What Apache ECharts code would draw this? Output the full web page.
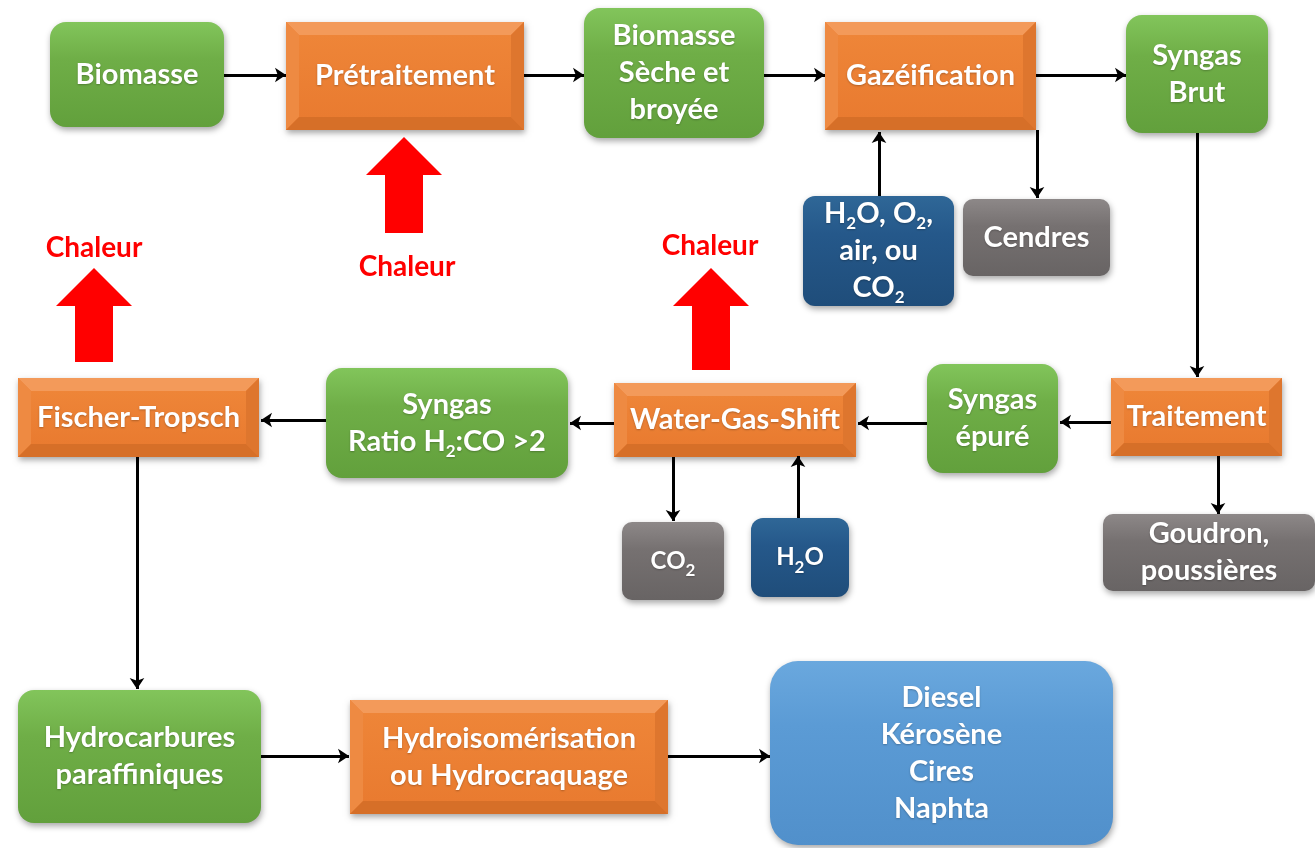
<!DOCTYPE html>
<html>
<head>
<meta charset="utf-8">
<title>Biomasse - Fischer-Tropsch</title>
<script src="https://cdn.jsdelivr.net/npm/echarts@6/dist/echarts.min.js"></script>
<style>
  html, body { margin: 0; padding: 0; background: #fff; }
  #chart { width: 1315px; height: 848px; }
</style>
</head>
<body>
<div id="chart"></div>
<script>
// diagram units = the 1315 x 848 canvas, mapped through hidden value axes
const nodeLabels = [
  'Biomasse', 'Prétraitement', 'Biomasse\nSèche et\nbroyée', 'Gazéification', 'Syngas\nBrut',
  'H{s|2}O, O{s|2},\nair, ou\nCO{s|2}', 'Cendres', 'Traitement', 'Syngas\népuré', 'Water-Gas-Shift',
  'Syngas\nRatio H{s|2}:CO >2', 'Fischer-Tropsch', 'CO{s|2}', 'H{s|2}O', 'Goudron,\npoussières',
  'Hydrocarbures\nparaffiniques', 'Hydroisomérisation\nou Hydrocraquage', 'Diesel\nKérosène\nCires\nNaphta'
]
const nodeKinds = [
  'product', 'process', 'product', 'process', 'product',
  'input', 'waste', 'process', 'product', 'process',
  'product', 'process', 'waste', 'input', 'waste',
  'product', 'process', 'fuel'
]
// box extents [x0, y0, x1, y1]
const nodeBoxes = [
  [50, 22, 224, 127], [286, 22, 524, 130], [584, 8, 764, 138], [825, 22, 1036, 130], [1126, 15, 1268, 133],
  [803, 196, 954, 306], [963, 199, 1110, 276], [1111, 378, 1282, 456], [927, 364, 1058, 473], [614, 383, 856, 457],
  [326, 368, 568, 478], [18, 378, 259, 457], [622, 522, 724, 600], [751, 518, 849, 597], [1103, 514, 1315, 591],
  [18, 690, 261, 823], [350, 700, 668, 814], [770, 661, 1113, 845]
]
// flow arrows [xFrom, yFrom, xTo, yTo]
const flows = [
  [224, 75, 286, 75], [524, 75, 584, 75], [764, 75, 825, 75], [1036, 75, 1126, 75],
  [879, 196, 879, 132], [1037, 130, 1037, 198], [1197, 133, 1197, 377],
  [1111, 422, 1060, 422], [927, 423, 858, 423], [614, 423, 570, 423], [326, 420, 261, 420],
  [673, 457, 673, 521], [798, 518, 798, 456], [1218, 456, 1218, 514],
  [137, 457, 137, 689], [261, 756, 349, 756], [668, 756, 770, 756]
]
// heat arrows [xCenter, yTip, yBase]
const heatArrows = [[404, 137, 233], [94, 268, 362], [711, 268, 370]]
const heatLabelPos = [[407, 267], [94, 248], [710, 246]]
const heatLabel = 'Chaleur'

const chart = echarts.init(document.getElementById('chart'))

const FONT = 'Lato'
const kindStyle = {
  process: { radius: 0 },
  product: { radius: 16, top: '#82c55b', mid: '#6fae47', bottom: '#62a03c' },
  input: { radius: 12, top: '#2f6797', mid: '#25588a', bottom: '#1f4d7a' },
  waste: { radius: 10, top: '#8d8888', mid: '#767171', bottom: '#686464' },
  fuel: { radius: 28, top: '#6aa8de', mid: '#5b9bd5', bottom: '#5190cb' }
}

function renderNode(params, api) {
  const i = params.dataIndex
  const p0 = api.coord([api.value(0), api.value(1)])
  const p1 = api.coord([api.value(2), api.value(3)])
  const x0 = p0[0], y0 = p0[1], x1 = p1[0], y1 = p1[1]
  const w = x1 - x0, h = y1 - y0
  const kind = nodeKinds[i]
  const shadow = { shadowBlur: 6, shadowOffsetX: 1, shadowOffsetY: 3, shadowColor: 'rgba(0,0,0,0.35)' }
  const children = []
  if (kind === 'process') {
    const b = 13
    children.push({ type: 'rect', shape: { x: x0, y: y0, width: w, height: h }, style: Object.assign({ fill: '#ec8035' }, shadow) })
    children.push({ type: 'polygon', shape: { points: [[x0, y0], [x1, y0], [x1 - b, y0 + b], [x0 + b, y0 + b]] }, style: { fill: '#f39a5a' } })
    children.push({ type: 'polygon', shape: { points: [[x0, y0], [x0 + b, y0 + b], [x0 + b, y1 - b], [x0, y1]] }, style: { fill: '#ee8a42' } })
    children.push({ type: 'polygon', shape: { points: [[x1, y0], [x1, y1], [x1 - b, y1 - b], [x1 - b, y0 + b]] }, style: { fill: '#de762e' } })
    children.push({ type: 'polygon', shape: { points: [[x0, y1], [x0 + b, y1 - b], [x1 - b, y1 - b], [x1, y1]] }, style: { fill: '#d66f28' } })
    children.push({
      type: 'rect',
      shape: { x: x0 + b, y: y0 + b, width: w - 2 * b, height: h - 2 * b },
      style: {
        fill: new echarts.graphic.LinearGradient(0, 0, 0, 1, [
          { offset: 0, color: '#ee8538' }, { offset: 1, color: '#e97b30' }
        ])
      }
    })
  } else {
    const s = kindStyle[kind]
    children.push({
      type: 'rect',
      shape: { x: x0, y: y0, width: w, height: h, r: s.radius },
      style: Object.assign({
        fill: new echarts.graphic.LinearGradient(0, 0, 0, 1, [
          { offset: 0, color: s.top }, { offset: 0.35, color: s.mid }, { offset: 1, color: s.bottom }
        ])
      }, shadow)
    })
  }
  const fs = w < 110 ? 24 : 29
  children.push({
    type: 'text',
    x: (x0 + x1) / 2,
    y: (y0 + y1) / 2,
    style: {
      text: nodeLabels[i],
      fill: '#fff',
      fontSize: fs,
      fontWeight: 'bold',
      fontFamily: FONT,
      lineHeight: 37,
      align: 'center',
      verticalAlign: 'middle',
      textShadowColor: 'rgba(0,0,0,0.25)',
      textShadowBlur: 2,
      textShadowOffsetY: 1,
      rich: {
        s: { fill: '#fff', fontSize: 17, fontWeight: 'bold', fontFamily: FONT, lineHeight: 20, verticalAlign: 'bottom' }
      }
    }
  })
  return { type: 'group', children: children }
}

function renderHeat(params, api) {
  const tip = api.coord([api.value(0), api.value(1)])
  const base = api.coord([api.value(0), api.value(2)])
  const cx = tip[0], ty = tip[1], by = base[1]
  const hw = 38, sw = 19, hh = 38
  return {
    type: 'polygon',
    shape: {
      points: [[cx, ty], [cx + hw, ty + hh], [cx + sw, ty + hh], [cx + sw, by],
               [cx - sw, by], [cx - sw, ty + hh], [cx - hw, ty + hh]]
    },
    style: { fill: '#ff0000' }
  }
}

chart.setOption({
  animation: false,
  backgroundColor: '#fff',
  grid: { left: 0, right: 0, top: 0, bottom: 0 },
  xAxis: { type: 'value', min: 0, max: 1315, show: false },
  yAxis: { type: 'value', min: 0, max: 848, inverse: true, show: false },
  series: [
    {
      type: 'lines',
      coordinateSystem: 'cartesian2d',
      z: 3,
      symbol: ['none', 'arrow'],
      symbolSize: 11,
      lineStyle: { color: '#000', width: 3, opacity: 1 },
      data: flows.map(f => ({ coords: [[f[0], f[1]], [f[2], f[3]]] }))
    },
    {
      type: 'custom',
      z: 2,
      renderItem: renderNode,
      data: nodeBoxes
    },
    {
      type: 'custom',
      z: 2,
      renderItem: renderHeat,
      data: heatArrows
    },
    {
      type: 'scatter',
      z: 4,
      symbolSize: 0,
      itemStyle: { opacity: 1, color: '#ff0000' },
      label: {
        show: true,
        position: 'inside',
        formatter: () => heatLabel,
        color: '#ff0000',
        opacity: 1,
        fontSize: 28,
        fontWeight: 'bold',
        fontFamily: FONT
      },
      data: heatLabelPos
    }
  ]
})
</script>
</body>
</html>
